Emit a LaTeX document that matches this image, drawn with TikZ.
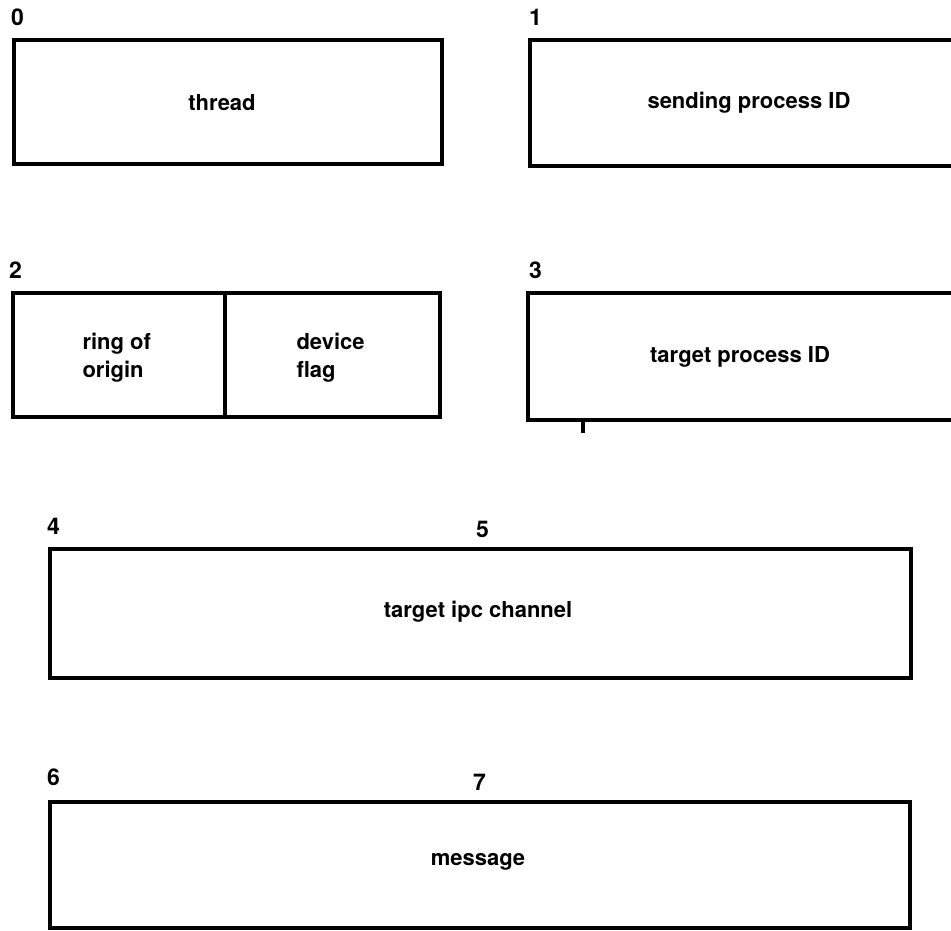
\documentclass[tikz,border=0pt]{standalone}
\usepackage{fontspec}
\setmainfont{TeX Gyre Heros}
\begin{document}
\begin{tikzpicture}[x=1pt,y=-1pt,
  field/.style={draw,line width=3.2pt,inner sep=0pt,outer sep=0pt,anchor=north west},
  lbl/.style={font=\bfseries\fontsize{22}{28}\selectfont},
  lbl2/.style={font=\bfseries\fontsize{22}{28}\selectfont,align=left,anchor=west},
  num/.style={font=\bfseries\fontsize{23}{26}\selectfont,anchor=base west,inner sep=0pt}]
\useasboundingbox (0,0) rectangle (951,930);
\clip (0,0) rectangle (951,930);

% word 0 and 1
\node[field,minimum width=428pt,minimum height=124pt] (f0) at (14,40) {};
\node[field,minimum width=440pt,minimum height=126pt] (f1) at (530,40) {};
\node[num] (n0) at (11,25) {0};
\node[num] (n1) at (529,25) {1};
\node[lbl] (t0) at (222,103) {thread};
\node[lbl] (t1) at (749,103) {sending process ID};

% word 2 (split) and 3
\node[field,minimum width=212pt,minimum height=124pt] (f2a) at (13,293) {};
\node[field,minimum width=215pt,minimum height=124pt] (f2b) at (225,293) {};
\node[field,minimum width=440pt,minimum height=127pt] (f3) at (528,293) {};
\node[num] (n2) at (9,278) {2};
\node[num] (n3) at (529,278) {3};
\node[lbl2] (t2a) at (79,358) {ring of\\origin};
\node[lbl2] (t2b) at (293,358) {device\\flag};
\node[lbl] (t3) at (740,357) {target process ID};
\coordinate (tk) at (583,433);
\draw[line width=3.5pt] (f3.south west -| tk) -- (tk);

% words 4-5
\node[field,minimum width=861pt,minimum height=129pt] (f4) at (50,549) {};
\node[num] (n4) at (47,534) {4};
\node[num] (n5) at (476,537) {5};
\node[lbl] (t4) at (478,612) {target ipc channel};

% words 6-7
\node[field,minimum width=860pt,minimum height=126pt] (f6) at (50,802) {};
\node[num] (n6) at (47,785) {6};
\node[num] (n7) at (473,790) {7};
\node[lbl] (t6) at (478,862) {message};
\end{tikzpicture}
\end{document}
